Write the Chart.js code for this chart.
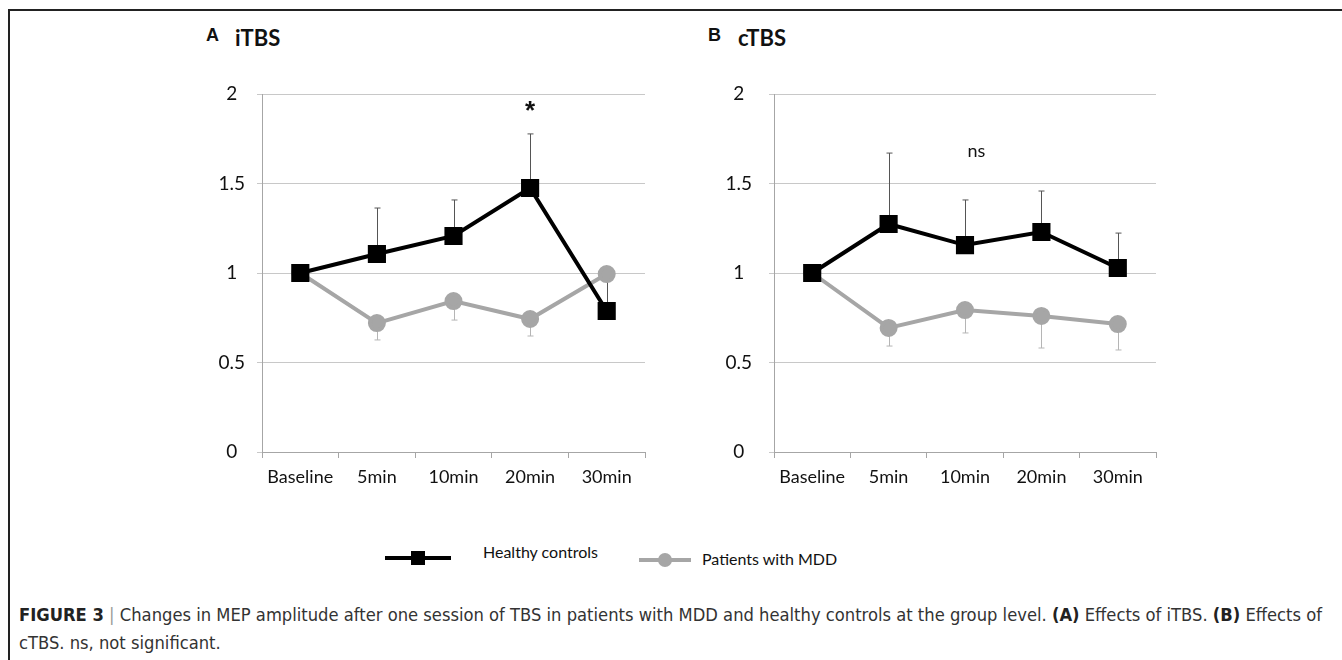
<!DOCTYPE html>
<html>
<head>
<meta charset="utf-8">
<script src="https://cdn.jsdelivr.net/npm/chart.js@4.4.1/dist/chart.umd.min.js"></script>
<style>
  html, body { margin: 0; padding: 0; background: #fff; }
  body { width: 1342px; height: 660px; position: relative; overflow: hidden; font-family: Lato, "Open Sans", sans-serif; }
  .frame-top { position: absolute; left: 9px; top: 9px; width: 1333px; height: 0; border-top: 2px solid #222; }
  .frame-left { position: absolute; left: 8px; top: 9px; width: 0; height: 651px; border-left: 2px solid #222; }
  .panel { position: absolute; top: 80px; width: 470px; height: 420px; }
  .letter { position: absolute; font-family: "Liberation Sans", Arial, sans-serif; font-weight: bold; font-size: 18px; color: #111; }
  .title { position: absolute; font-family: Lato, sans-serif; font-weight: bold; font-size: 22px; color: #111; }
  .leg { position: absolute; }
  .legtext { position: absolute; font-family: Lato, sans-serif; font-size: 16px; color: #111; white-space: nowrap; }
  .caption { position: absolute; left: 19px; font-family: "Liberation Sans Narrow", "DejaVu Sans Condensed", "Liberation Sans", sans-serif; font-size: 18px; color: #333; white-space: nowrap; transform-origin: 0 0; }
  .caption b { color: #222; }
</style>
</head>
<body>
<div class="frame-top"></div>
<div class="frame-left"></div>

<div class="letter" style="left:206px;top:25px;">A</div>
<div class="title" style="left:235px;top:24px;">iTBS</div>
<div class="letter" style="left:708px;top:25px;">B</div>
<div class="title" style="left:738px;top:24px;">cTBS</div>

<div class="panel" style="left:190px;"><canvas id="chartA"></canvas></div>
<div class="panel" style="left:700px;"><canvas id="chartB"></canvas></div>

<!-- legend -->
<div class="leg" style="left:385px;top:556px;width:66px;height:4px;background:#000;"></div>
<div class="leg" style="left:411px;top:551px;width:14px;height:14px;background:#000;"></div>
<div class="legtext" style="left:483px;top:542px;">Healthy controls</div>
<div class="leg" style="left:639px;top:558px;width:52px;height:4px;background:#a6a6a6;"></div>
<div class="leg" style="left:658px;top:553px;width:14px;height:14px;border-radius:50%;background:#a6a6a6;"></div>
<div class="legtext" style="left:702px;top:549px;">Patients with MDD</div>

<div class="caption" id="cap1" style="top:604px;"><b>FIGURE 3</b> <span style="color:#999">|</span> Changes in MEP amplitude after one session of TBS in patients with MDD and healthy controls at the group level. <b>(A)</b> Effects of iTBS. <b>(B)</b> Effects of</div>
<div class="caption" id="cap2" style="top:632px;">cTBS. ns, not significant.</div>

<script>
const timepoints = ['Baseline', '5min', '10min', '20min', '30min'];
const yTicks = [0, 0.5, 1, 1.5, 2];

// iTBS panel
const itbsHealthy = [1.0, 1.106, 1.207, 1.475, 0.788];
const itbsHealthyUpper = [null, 1.363, 1.408, 1.777, 0.99];
const itbsMdd = [1.0, 0.72, 0.843, 0.743, 0.994];
const itbsMddLower = [null, 0.626, 0.737, 0.648, 0.97];

// cTBS panel
const ctbsHealthy = [1.0, 1.274, 1.156, 1.229, 1.028];
const ctbsHealthyUpper = [null, 1.670, 1.408, 1.458, 1.223];
const ctbsMdd = [1.0, 0.693, 0.793, 0.760, 0.715];
const ctbsMddLower = [null, 0.592, 0.665, 0.581, 0.570];

const errorBars = {
  id: 'errorBars',
  beforeDatasetsDraw(chart) {
    const ctx = chart.ctx;
    const xs = chart.scales.x, ys = chart.scales.y;
    chart.data.datasets.forEach(ds => {
      if (!ds.errEnds) return;
      ctx.save();
      ctx.strokeStyle = ds.errColor;
      ctx.lineWidth = 1;
      ds.data.forEach((v, i) => {
        const e = ds.errEnds[i];
        if (e == null) return;
        const x = Math.round(xs.getPixelForValue(i)) + 0.5;
        const y0 = ys.getPixelForValue(v);
        const y1 = ys.getPixelForValue(e);
        ctx.beginPath();
        ctx.moveTo(x, y0);
        ctx.lineTo(x, y1);
        ctx.moveTo(x - 3, y1);
        ctx.lineTo(x + 3, y1);
        ctx.stroke();
      });
      ctx.restore();
    });
  }
};

const markText = {
  id: 'markText',
  afterDatasetsDraw(chart, args, opts) {
    if (!opts.text) return;
    const ctx = chart.ctx;
    ctx.save();
    ctx.font = opts.font;
    ctx.fillStyle = '#111';
    ctx.textAlign = 'center';
    ctx.textBaseline = 'middle';
    ctx.fillText(opts.text, chart.scales.x.getPixelForValue(opts.xIndex), chart.scales.y.getPixelForValue(opts.yValue));
    ctx.restore();
  }
};

function makeChart(id, healthy, healthyUp, mdd, mddLow, yWidth, padRight, labelPad, mark) {
  return new Chart(id, {
    type: 'line',
    data: {
      labels: timepoints,
      datasets: [{
        label: 'Healthy controls',
        data: healthy,
        errEnds: healthyUp,
        errColor: '#555',
        borderColor: '#000',
        backgroundColor: '#000',
        borderWidth: 4,
        pointStyle: 'rect',
        pointRadius: 10,
        pointHoverRadius: 10,
        tension: 0
      }, {
        label: 'Patients with MDD',
        data: mdd,
        errEnds: mddLow,
        errColor: '#b5b5b5',
        borderColor: '#a6a6a6',
        backgroundColor: '#a6a6a6',
        borderWidth: 4,
        pointStyle: 'circle',
        pointRadius: 7,
        pointHoverRadius: 7,
        tension: 0
      }]
    },
    options: {
      responsive: true,
      maintainAspectRatio: false,
      animation: false,
      layout: { padding: { left: 0, right: padRight, top: 14, bottom: 0 } },
      plugins: {
        legend: { display: false },
        tooltip: { enabled: false },
        markText: mark
      },
      scales: {
        x: {
          offset: true,
          grid: { offset: true, drawOnChartArea: false, drawTicks: true, tickLength: 6, color: '#a6a6a6' },
          border: { color: '#a6a6a6', width: 1 },
          ticks: { color: '#111', padding: 8, font: { family: 'Lato', size: 18 }, maxRotation: 0 },
          afterFit(s) { s.height = 48; s.paddingLeft = 0; s.paddingRight = 0; }
        },
        y: {
          min: 0,
          max: 2,
          afterBuildTicks(s) { s.ticks = yTicks.map(v => ({ value: v })); },
          grid: { color: '#c8c8c8', tickLength: 5, drawTicks: true },
          border: { color: '#a6a6a6', width: 1 },
          ticks: { color: '#111', padding: labelPad, crossAlign: 'center', font: { family: 'Lato', size: 19 },
                   callback: v => String(v) },
          afterFit(s) { s.width = yWidth; s.paddingTop = 0; s.paddingBottom = 0; }
        }
      }
    },
    plugins: [errorBars, markText]
  });
}

makeChart('chartA', itbsHealthy, itbsHealthyUpper, itbsMdd, itbsMddLower, 72, 15, 12,
  { text: '*', xIndex: 3, yValue: 1.90, font: 'bold 26px "Liberation Sans", sans-serif' });
makeChart('chartB', ctbsHealthy, ctbsHealthyUpper, ctbsMdd, ctbsMddLower, 74, 14, 17,
  { text: 'ns', xIndex: 2.15, yValue: 1.68, font: '18px Lato, sans-serif' });

// fit caption line to the original width
const cap1 = document.getElementById('cap1');
const cap2 = document.getElementById('cap2');
const k = 1303 / cap1.getBoundingClientRect().width;
cap1.style.transform = 'scaleX(' + k + ')';
cap2.style.transform = 'scaleX(' + k + ')';
</script>
</body>
</html>
